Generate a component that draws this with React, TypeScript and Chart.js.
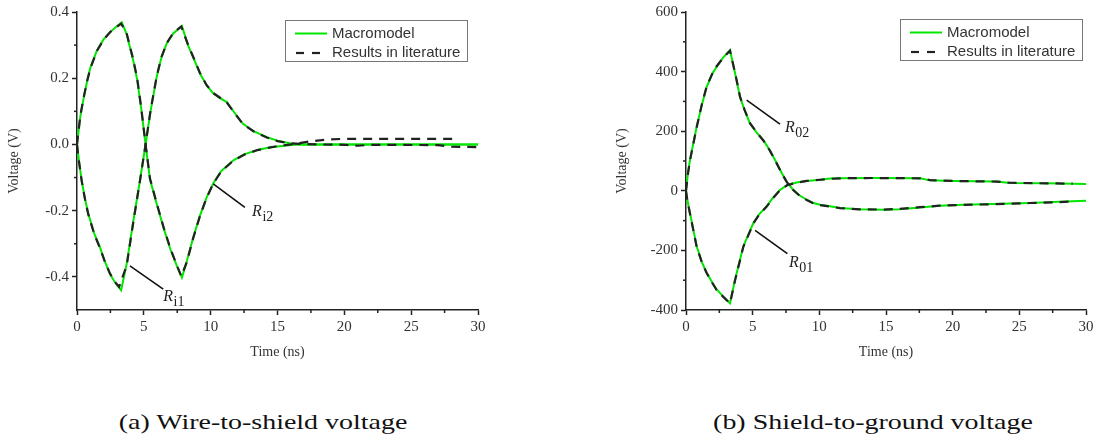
import React, { useEffect, useRef } from 'react';
import { Chart, registerables } from 'chart.js';

Chart.register(...registerables);

// ---------- shared text ----------
const LEGEND_LABELS = ['Macromodel', 'Results in literature'];
const X_TITLE = 'Time (ns)';
const Y_TITLE = 'Voltage (V)';
const CAPTION_A = '(a) Wire-to-shield voltage';
const CAPTION_B = '(b) Shield-to-ground voltage';

// ---------- ticks ----------
const X_TICKS = [0, 5, 10, 15, 20, 25, 30];
const X_MINOR = [2.5, 7.5, 12.5, 17.5, 22.5, 27.5];
const A_Y_TICKS = [-0.4, -0.2, 0, 0.2, 0.4];
const A_Y_MINOR = [-0.3, -0.1, 0.1, 0.3];
const B_Y_TICKS = [-400, -200, 0, 200, 400, 600];
const B_Y_MINOR = [-300, -100, 100, 300, 500];

// ---------- chart (a): wire-to-shield ----------
const A1_MACRO_T = [0, 0.25, 0.5, 0.75, 1, 1.5, 2, 2.5, 3, 3.35, 3.7, 4.2, 4.5, 4.8, 5.13, 5.46, 6, 6.5, 7, 7.5, 7.85, 8.2, 8.7, 9.2, 9.7, 10.2, 10.8, 11.7, 12.5, 13.5, 14.2, 15, 16.2, 18, 20, 22, 24, 26, 28, 30];
const A1_MACRO_V = [0, 0.085, 0.14, 0.19, 0.232, 0.285, 0.318, 0.34, 0.358, 0.369, 0.335, 0.255, 0.196, 0.11, 0, -0.105, -0.185, -0.255, -0.318, -0.37, -0.402, -0.355, -0.28, -0.215, -0.16, -0.117, -0.08, -0.048, -0.03, -0.017, -0.011, -0.006, -0.001, 0, 0, 0, 0, 0, 0, 0];
const A1_LIT_T = [0, 0.25, 0.5, 0.75, 1, 1.5, 2, 2.5, 3, 3.3, 3.7, 4.2, 4.5, 4.8, 5.13, 5.46, 6, 6.5, 7, 7.5, 7.8, 8.2, 8.7, 9.2, 9.7, 10.2, 10.8, 11.7, 12.5, 13.5, 14.2, 15, 16.2, 17.2, 18.5, 20, 24, 28.5];
const A1_LIT_V = [0, 0.088, 0.142, 0.19, 0.23, 0.283, 0.317, 0.34, 0.356, 0.365, 0.338, 0.258, 0.2, 0.112, 0, -0.103, -0.183, -0.253, -0.316, -0.368, -0.398, -0.357, -0.282, -0.216, -0.161, -0.118, -0.081, -0.049, -0.031, -0.017, -0.011, -0.005, 0.001, 0.008, 0.014, 0.017, 0.017, 0.017];

const A2_MACRO_T = [0, 0.15, 0.35, 0.6, 0.85, 1.3, 1.72, 2.1, 2.47, 2.9, 3.3, 3.72, 4.2, 4.71, 5.13, 5.5, 5.96, 6.3, 6.71, 7.2, 7.85, 8.3, 8.7, 9.2, 9.7, 10.2, 10.7, 11.2, 11.8, 12.4, 13.2, 14.2, 15, 16, 17, 20, 24, 28, 30];
const A2_MACRO_V = [0, -0.05, -0.109, -0.165, -0.21, -0.27, -0.311, -0.355, -0.392, -0.42, -0.44, -0.36, -0.235, -0.109, 0, 0.1, 0.204, 0.26, 0.305, 0.335, 0.358, 0.3, 0.262, 0.214, 0.178, 0.154, 0.14, 0.128, 0.095, 0.063, 0.04, 0.022, 0.011, 0.003, 0, 0, 0, 0, 0];
const A2_LIT_T = [0, 0.15, 0.35, 0.6, 0.85, 1.3, 1.72, 2.1, 2.47, 2.9, 3.15, 3.72, 4.2, 4.71, 5.13, 5.5, 5.96, 6.3, 6.71, 7.2, 7.8, 8.3, 8.7, 9.2, 9.7, 10.2, 10.7, 11.2, 11.8, 12.4, 13.2, 14.2, 15, 16, 18, 20, 21, 22, 27, 28, 30];
const A2_LIT_V = [0, -0.052, -0.11, -0.166, -0.212, -0.272, -0.313, -0.356, -0.39, -0.418, -0.43, -0.365, -0.238, -0.11, 0, 0.102, 0.205, 0.262, 0.306, 0.337, 0.356, 0.302, 0.264, 0.216, 0.179, 0.155, 0.141, 0.127, 0.094, 0.062, 0.04, 0.021, 0.01, 0.003, 0, -0.001, -0.004, -0.001, -0.002, -0.007, -0.008];

// ---------- chart (b): shield-to-ground ----------
const B1_MACRO_T = [0, 0.15, 0.3, 0.8, 1.2, 1.55, 2, 2.3, 2.8, 3.3, 3.7, 4.05, 4.4, 4.8, 5.3, 5.8, 6.3, 6.8, 7.2, 7.55, 8, 8.5, 9.05, 9.5, 10.05, 10.8, 11.55, 13, 14.8, 16, 17.55, 19, 20.8, 23, 25.8, 28, 30];
const B1_MACRO_V = [0, 60, 104, 215, 290, 349, 395, 416, 448, 472, 390, 315, 270, 226, 195, 170, 135, 93, 58, 31, 5, -15, -30, -40, -47, -52, -58, -62, -64, -62, -56, -50, -47, -44, -41, -37, -33];
const B1_LIT_T = [0, 0.15, 0.3, 0.8, 1.2, 1.55, 2, 2.3, 2.8, 3.3, 3.7, 4.05, 4.4, 4.8, 5.3, 5.8, 6.3, 6.8, 7.2, 7.55, 8, 8.5, 9.05, 9.5, 10.05, 10.8, 11.55, 13, 14.8, 16, 17.55, 19, 20.8, 23, 25.8, 28, 29];
const B1_LIT_V = [0, 58, 102, 213, 292, 350, 396, 418, 447, 470, 392, 316, 271, 227, 196, 169, 134, 92, 57, 30, 4, -16, -31, -41, -48, -53, -58, -62, -63, -61, -55, -50, -47, -45, -41, -38, -36];

const B2_MACRO_T = [0, 0.1, 0.3, 0.8, 1.2, 1.55, 2, 2.3, 2.8, 3.3, 3.68, 4.3, 5.05, 5.5, 6.05, 6.5, 7.05, 7.6, 8.3, 9.05, 10.05, 10.8, 11.55, 14, 17.55, 18.3, 20, 23.3, 24.3, 27, 30];
const B2_MACRO_V = [0, -30, -75, -186, -240, -275, -310, -331, -355, -377, -298, -186, -108, -78, -52, -25, 3, 20, 28, 33, 37, 41, 42, 43, 42, 35, 33, 31, 26, 25, 23];
const B2_LIT_T = [0, 0.1, 0.3, 0.8, 1.2, 1.55, 2, 2.3, 2.8, 3.3, 3.68, 4.3, 5.05, 5.5, 6.05, 6.5, 7.05, 7.6, 8.3, 9.05, 10.05, 10.8, 11.55, 14, 17.55, 18.3, 20, 23.3, 24.3, 27, 29];
const B2_LIT_V = [0, -32, -77, -188, -242, -276, -311, -333, -356, -378, -300, -188, -110, -79, -53, -26, 2, 19, 27, 33, 37, 40, 42, 43, 42, 36, 33, 31, 27, 25, 24];

const GREEN = '#00e600';
const DASH_COLOR = '#222222';
const SERIF = '"Liberation Serif", "Times New Roman", serif';
const SANS = '"Liberation Sans", Arial, sans-serif';

const pts = (t: number[], v: number[]) => t.map((x, i) => ({ x, y: v[i] }));

const macro = (t: number[], v: number[]) => ({
  label: LEGEND_LABELS[0],
  data: pts(t, v),
  borderColor: GREEN,
  borderWidth: 2,
  pointRadius: 0,
  fill: false,
  tension: 0,
  order: 1,
});
const lit = (t: number[], v: number[]) => ({
  label: LEGEND_LABELS[1],
  data: pts(t, v),
  borderColor: DASH_COLOR,
  borderWidth: 2.2,
  borderDash: [9, 7],
  pointRadius: 0,
  fill: false,
  tension: 0,
  order: 0,
});

type Note = { x1: number; y1: number; x2: number; y2: number; tx: number; ty: number; sub: string };

const NOTES_A: Note[] = [
  { x1: 3.96, y1: -0.367, x2: 6.45, y2: -0.437, tx: 6.45, ty: -0.474, sub: 'i1' },
  { x1: 10.19, y1: -0.119, x2: 12.56, y2: -0.19, tx: 13.1, ty: -0.215, sub: 'i2' },
];
const NOTES_B: Note[] = [
  { x1: 4.55, y1: 304, x2: 7.05, y2: 224, tx: 7.43, ty: 198, sub: '02' },
  { x1: 5.18, y1: -133, x2: 7.6, y2: -211, tx: 7.73, ty: -257, sub: '01' },
];

const decorPlugin = {
  id: 'decor',
  afterDraw(chart: any, _args: any, opts: any) {
    const ctx = chart.ctx as CanvasRenderingContext2D;
    const xs = chart.scales.x;
    const ys = chart.scales.y;
    const area = chart.chartArea;
    ctx.save();
    // minor ticks
    ctx.strokeStyle = '#222';
    ctx.lineWidth = 1.5;
    for (const v of opts.xMinor || []) {
      const px = xs.getPixelForValue(v);
      ctx.beginPath();
      ctx.moveTo(px, area.bottom);
      ctx.lineTo(px, area.bottom + 3);
      ctx.stroke();
    }
    for (const v of opts.yMinor || []) {
      const py = ys.getPixelForValue(v);
      ctx.beginPath();
      ctx.moveTo(area.left, py);
      ctx.lineTo(area.left - 3, py);
      ctx.stroke();
    }
    // annotations
    for (const n of (opts.notes || []) as Note[]) {
      ctx.strokeStyle = '#111';
      ctx.lineWidth = 1.6;
      ctx.setLineDash([]);
      ctx.beginPath();
      ctx.moveTo(xs.getPixelForValue(n.x1), ys.getPixelForValue(n.y1));
      ctx.lineTo(xs.getPixelForValue(n.x2), ys.getPixelForValue(n.y2));
      ctx.stroke();
      const tx = xs.getPixelForValue(n.tx);
      const ty = ys.getPixelForValue(n.ty);
      ctx.fillStyle = '#222';
      ctx.textBaseline = 'alphabetic';
      ctx.textAlign = 'left';
      ctx.font = `italic 16px ${SERIF}`;
      ctx.fillText('R', tx, ty);
      const w = ctx.measureText('R').width;
      ctx.font = `14px ${SERIF}`;
      ctx.fillText(n.sub, tx + w + 0.5, ty + 5);
    }
    // legend
    const lg = opts.legend;
    if (lg) {
      const bw = 182;
      const bh = 41;
      const bx = area.right - lg.right - bw;
      const by = area.top + lg.top;
      ctx.fillStyle = '#fff';
      ctx.fillRect(bx, by, bw, bh);
      ctx.strokeStyle = '#777';
      ctx.lineWidth = 1;
      ctx.strokeRect(bx + 0.5, by + 0.5, bw, bh);
      // entry 1
      ctx.strokeStyle = GREEN;
      ctx.lineWidth = 2;
      ctx.beginPath();
      ctx.moveTo(bx + 10, by + 13.5);
      ctx.lineTo(bx + 42, by + 13.5);
      ctx.stroke();
      // entry 2
      ctx.strokeStyle = DASH_COLOR;
      ctx.lineWidth = 2.2;
      ctx.setLineDash([8, 8]);
      ctx.beginPath();
      ctx.moveTo(bx + 11, by + 33);
      ctx.lineTo(bx + 43, by + 33);
      ctx.stroke();
      ctx.setLineDash([]);
      ctx.fillStyle = '#333';
      ctx.font = `15px ${SANS}`;
      ctx.textBaseline = 'middle';
      ctx.fillText(LEGEND_LABELS[0], bx + 47, by + 13.5);
      ctx.fillText(LEGEND_LABELS[1], bx + 47, by + 33);
    }
    ctx.restore();
  },
};

function makeConfig(p: {
  datasets: any[];
  yMin: number;
  yMax: number;
  yTicks: number[];
  yMinor: number[];
  yFmt: (v: number) => string;
  padLeft: number;
  padRight: number;
  yWidth: number;
  notes: Note[];
  legend: { right: number; top: number };
}): any {
  const tickFont = { family: SERIF, size: 15 };
  const titleFont = { family: SERIF, size: 14 };
  return {
    type: 'line',
    data: { datasets: p.datasets },
    plugins: [decorPlugin],
    options: {
      animation: false,
      responsive: true,
      maintainAspectRatio: false,
      layout: { padding: { left: p.padLeft, top: 12, right: p.padRight, bottom: 0 } },
      plugins: {
        legend: { display: false },
        tooltip: { enabled: false },
        decor: { xMinor: X_MINOR, yMinor: p.yMinor, notes: p.notes, legend: p.legend },
      },
      scales: {
        x: {
          type: 'linear',
          min: 0,
          max: 30,
          afterBuildTicks: (s: any) => {
            s.ticks = X_TICKS.map((v) => ({ value: v }));
          },
          afterFit: (s: any) => {
            s.height = 70;
          },
          ticks: {
            font: tickFont,
            color: '#333',
            padding: 3,
            maxRotation: 0,
            autoSkip: false,
            callback: (v: any) => String(v),
          },
          grid: {
            display: true,
            drawOnChartArea: false,
            drawTicks: true,
            tickLength: 5,
            tickColor: '#222',
            tickWidth: 1.5,
          },
          border: { display: true, color: '#222', width: 1.5 },
          title: {
            display: true,
            text: X_TITLE,
            font: titleFont,
            color: '#333',
            padding: { top: 0, bottom: 19 },
          },
        },
        y: {
          type: 'linear',
          min: p.yMin,
          max: p.yMax,
          afterBuildTicks: (s: any) => {
            s.ticks = p.yTicks.map((v) => ({ value: v }));
          },
          afterFit: (s: any) => {
            s.width = p.yWidth;
          },
          ticks: {
            font: tickFont,
            color: '#333',
            padding: 3,
            autoSkip: false,
            callback: (v: any) => p.yFmt(Number(v)),
          },
          grid: {
            display: true,
            drawOnChartArea: false,
            drawTicks: true,
            tickLength: 5,
            tickColor: '#222',
            tickWidth: 1.5,
          },
          border: { display: true, color: '#222', width: 1.5 },
          title: {
            display: true,
            text: Y_TITLE,
            font: titleFont,
            color: '#333',
            padding: { top: 6, bottom: 0 },
          },
        },
      },
    },
  };
}

function ChartBox({ config, style }: { config: any; style: React.CSSProperties }) {
  const ref = useRef<HTMLCanvasElement>(null);
  useEffect(() => {
    const chart = new Chart(ref.current as HTMLCanvasElement, config);
    return () => chart.destroy();
  }, []);
  return (
    <div style={{ position: 'absolute', ...style }}>
      <canvas ref={ref} />
    </div>
  );
}

const configA = makeConfig({
  datasets: [lit(A1_LIT_T, A1_LIT_V), lit(A2_LIT_T, A2_LIT_V), macro(A1_MACRO_T, A1_MACRO_V), macro(A2_MACRO_T, A2_MACRO_V)],
  yMin: -0.5,
  yMax: 0.4,
  yTicks: A_Y_TICKS,
  yMinor: A_Y_MINOR,
  yFmt: (v) => v.toFixed(1),
  padLeft: 0,
  padRight: 70,
  yWidth: 77,
  notes: NOTES_A,
  legend: { right: 11, top: 8 },
});

const configB = makeConfig({
  datasets: [lit(B1_LIT_T, B1_LIT_V), lit(B2_LIT_T, B2_LIT_V), macro(B1_MACRO_T, B1_MACRO_V), macro(B2_MACRO_T, B2_MACRO_V)],
  yMin: -400,
  yMax: 600,
  yTicks: B_Y_TICKS,
  yMinor: B_Y_MINOR,
  yFmt: (v) => String(Math.round(v)),
  padLeft: 60,
  padRight: 11,
  yWidth: 78,
  notes: NOTES_B,
  legend: { right: 4, top: 7 },
});

const captionStyle = (cx: number): React.CSSProperties => ({
  position: 'absolute',
  left: cx,
  top: 411,
  fontFamily: SERIF,
  fontSize: '21.5px',
  lineHeight: '22px',
  color: '#111',
  whiteSpace: 'nowrap',
  transform: 'translateX(-50%) scaleX(1.3)',
});

export default function App() {
  return (
    <div style={{ position: 'absolute', left: 0, top: 0, width: 1097, height: 434, background: '#fff', overflow: 'hidden' }}>
      <ChartBox config={configA} style={{ left: 0, top: 0, width: 548, height: 380 }} />
      <ChartBox config={configB} style={{ left: 548, top: 0, width: 549, height: 380 }} />
      <div style={captionStyle(263)}>{CAPTION_A}</div>
      <div style={captionStyle(873)}>{CAPTION_B}</div>
    </div>
  );
}
